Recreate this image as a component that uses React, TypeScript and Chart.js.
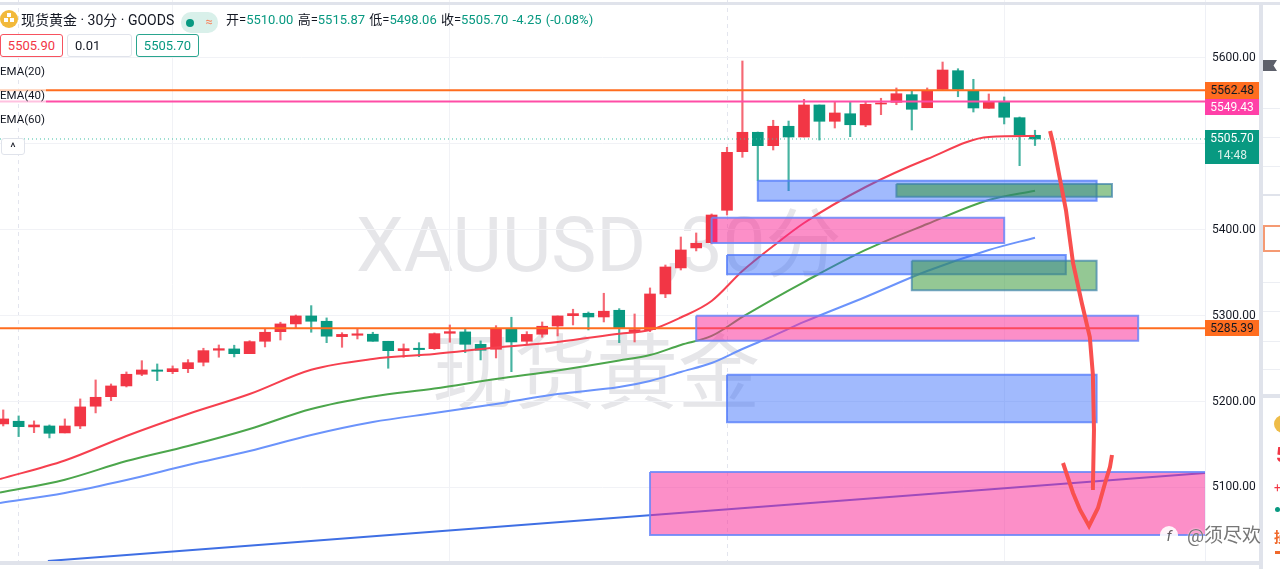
import React, { useEffect, useRef } from "react";
import { Chart, registerables } from "chart.js";

Chart.register(...registerables);

const FONT = "Roboto, 'Noto Sans CJK SC', sans-serif";

// candle values, oldest first (index 0..67)
const opens = [
  5174.0, 5177.1, 5170.5, 5171.6, 5163.5, 5171.6, 5194.6, 5205.7, 5218.2, 5231.8, 5236.8, 5234.8, 5238.3, 5245.8, 5259.8, 5261.3, 5255.8,
  5270.2, 5281.4, 5290.4, 5299.7, 5293.5, 5275.6, 5277.2, 5278.4, 5270.2, 5259.3, 5262.1, 5261.6, 5279.5, 5281.1, 5266.7, 5260.9, 5284.6,
  5270.2, 5278.4, 5288.0, 5300.0, 5302.8, 5298.5, 5306.3, 5281.4, 5283.7, 5325.3, 5355.6, 5378.9, 5385.0, 5422.7, 5490.9, 5513.5, 5497.9,
  5520.5, 5508.0, 5545.3, 5526.3, 5535.1, 5522.0, 5546.4, 5548.4, 5557.3, 5542.1, 5563.5, 5585.2, 5561.9, 5541.4, 5549.1, 5530.5, 5510.0,
];
const highs = [
  5190.3, 5183.3, 5177.5, 5172.8, 5179.8, 5203.1, 5225.2, 5220.5, 5234.5, 5247.6, 5243.8, 5241.5, 5248.8, 5262.1, 5265.9, 5265.6, 5270.9,
  5284.5, 5292.4, 5300.8, 5311.7, 5297.4, 5280.2, 5284.9, 5280.7, 5270.2, 5267.1, 5268.6, 5279.9, 5289.2, 5284.2, 5270.6, 5288.4, 5298.2,
  5281.4, 5292.7, 5299.7, 5307.5, 5304.3, 5326.1, 5308.2, 5302.0, 5332.3, 5359.0, 5391.6, 5396.3, 5418.4, 5496.0, 5596.5, 5513.8, 5527.5,
  5526.6, 5551.9, 5545.3, 5549.1, 5549.1, 5549.1, 5553.1, 5565.1, 5561.2, 5565.1, 5595.3, 5587.5, 5575.2, 5558.1, 5554.6, 5531.3, 5515.87,
];
const lows = [
  5171.6, 5159.2, 5163.8, 5157.7, 5163.5, 5168.5, 5186.8, 5201.1, 5217.0, 5230.2, 5224.4, 5232.5, 5233.7, 5241.5, 5251.6, 5252.0, 5255.8,
  5263.6, 5271.7, 5285.7, 5280.7, 5268.6, 5263.2, 5272.9, 5270.2, 5238.8, 5251.6, 5252.3, 5260.7, 5269.1, 5257.0, 5248.5, 5250.8, 5234.8,
  5266.7, 5274.9, 5276.4, 5289.2, 5283.4, 5292.7, 5268.6, 5269.4, 5281.4, 5321.0, 5353.2, 5375.4, 5383.5, 5417.2, 5484.4, 5457.1, 5492.9,
  5445.5, 5508.0, 5504.5, 5518.5, 5508.4, 5520.0, 5534.0, 5545.6, 5516.2, 5542.1, 5563.5, 5554.9, 5537.1, 5541.4, 5523.2, 5474.6, 5498.06,
];
const closes = [
  5179.8, 5170.8, 5172.8, 5163.1, 5171.6, 5193.8, 5205.0, 5218.2, 5231.8, 5236.8, 5235.3, 5238.3, 5245.3, 5259.3, 5261.6, 5255.8, 5269.8,
  5280.7, 5290.4, 5299.7, 5293.5, 5276.1, 5278.2, 5278.9, 5270.2, 5259.3, 5261.6, 5260.5, 5279.1, 5281.4, 5266.7, 5259.8, 5284.9, 5269.4,
  5278.2, 5287.7, 5299.7, 5302.4, 5298.5, 5305.2, 5286.1, 5283.7, 5325.3, 5356.7, 5376.5, 5384.3, 5417.2, 5490.2, 5513.5, 5497.9, 5520.5,
  5508.0, 5545.3, 5526.3, 5536.0, 5522.3, 5546.1, 5547.6, 5558.4, 5540.3, 5561.9, 5586.0, 5563.5, 5541.8, 5549.1, 5531.0, 5510.3, 5505.7,
];

// moving averages, read at these candle indexes
const emaIndex = [-0.21, 4, 8, 12, 16, 20, 24, 28, 32, 36, 40, 42, 44, 46, 48, 50, 52, 56, 60, 64, 67];
const ema20 = [5109.9, 5131.4, 5160.0, 5185.6, 5208.8, 5237.1, 5249.6, 5255.4, 5263.0, 5269.4, 5278.9, 5283.3, 5297.9, 5317.1, 5352.0, 5381.1, 5407.9, 5449.8, 5482.4, 5508.0, 5509.2];
const ema40 = [5094.0, 5109.1, 5130.8, 5148.3, 5168.1, 5191.4, 5205.9, 5215.2, 5226.3, 5236.2, 5247.8, 5254.2, 5265.9, 5276.4, 5298.5, 5319.4, 5339.2, 5376.5, 5406.7, 5434.7, 5445.5];
const ema60 = [5082.0, 5093.6, 5108.7, 5126.2, 5142.5, 5161.1, 5176.2, 5186.7, 5197.2, 5208.8, 5217.0, 5224.0, 5234.5, 5244.9, 5261.2, 5276.4, 5292.7, 5321.8, 5352.0, 5376.5, 5390.8];

// trend line
const trendX = [2.9, 78.1];
const trendY = [5014.5, 5117.0];

// horizontal levels
const levelOrange1 = 5562.48;
const levelPink = 5549.43;
const levelOrange2 = 5285.39;
const lastPrice = 5505.7;

// zones: first candle, last candle, top price, bottom price
const zoneBlueA = [49, 71, 5457.1, 5433.9];
const zoneGreenA = [58, 72, 5453.3, 5438.5];
const zonePinkA = [46, 65, 5414.1, 5384.6];
const zoneBlueB = [47, 69, 5370.7, 5348.2];
const zoneGreenB = [59, 71, 5364.0, 5329.6];
const zonePinkB = [45, 73.7, 5300.0, 5270.9];
const zoneBlueC = [47, 71, 5231.3, 5175.9];
const zonePinkC = [42, 78.1, 5118.0, 5044.7];

// hand-drawn strokes
const shaftX = [67.98, 68.17, 68.63, 69.01, 69.47, 70.04, 70.56, 70.76, 70.83, 70.76, 70.64];
const shaftY = [5515.0, 5501.0, 5458.0, 5423.0, 5361.3, 5314.8, 5275.2, 5231.0, 5167.0, 5099.4, 5099.4];
const vMarkX = [68.82, 69.47, 69.93, 70.51, 71.09, 71.55, 71.87, 72.0];
const vMarkY = [5128.5, 5093.6, 5073.8, 5055.2, 5076.1, 5105.2, 5123.9, 5137.8];

// axes
const priceTicks = [5100, 5200, 5300, 5400, 5500, 5600];
const timeTicks = [1, 11, 29, 47, 65];
const dayBreaks = [1, 47];
const xRange = [-0.21, 78.04];
const yRange = [5005.1, 5667.5];

const UP = "#f23645";
const DOWN = "#089981";

const zip = (xs: number[], ys: number[]) => xs.map((x, i) => ({ x, y: ys[i] }));

const zoneSet = (z: number[], fill: string, border: string, order: number) => ({
  type: "line" as const,
  data: zip([z[0], z[1], z[1], z[0], z[0]], [z[2], z[2], z[3], z[3], z[2]]),
  backgroundColor: fill,
  borderColor: border,
  borderWidth: 2,
  pointRadius: 0,
  tension: 0,
  fill: "shape",
  order,
});

const lineSet = (data: { x: number; y: number }[], color: string, width: number, order: number, extra: object = {}) => ({
  type: "line" as const,
  data,
  borderColor: color,
  backgroundColor: color,
  borderWidth: width,
  pointRadius: 0,
  tension: 0,
  fill: false,
  order,
  ...extra,
});

const smooth = { cubicInterpolationMode: "monotone" };

const level = (y: number) => zip([xRange[0], xRange[1]], [y, y]);

const candleColors = opens.map((o, i) => (closes[i] >= o ? UP : DOWN));
const wickColors = opens.map((o, i) => (closes[i] >= o ? "rgba(242,54,69,0.75)" : "rgba(8,153,129,0.75)"));

const PINK_FILL = "rgba(250,40,150,0.52)";
const PINK_EDGE = "rgba(105,135,250,0.85)";
const BLUE_FILL = "rgba(50,105,250,0.46)";
const BLUE_EDGE = "rgba(85,125,250,0.8)";
const GREEN_FILL = "rgba(50,150,50,0.52)";
const GREEN_EDGE = "rgba(60,130,170,0.7)";

const abs = (left: number, top: number, width: number, height: number, extra: React.CSSProperties = {}): React.CSSProperties => ({
  position: "absolute",
  left,
  top,
  width,
  height,
  ...extra,
});

const Tag = ({ top, height, bg, color, text }: { top: number; height: number; bg: string; color: string; text: string }) => (
  <div style={abs(1205, top, 54, height, { background: bg, color, fontSize: 12, lineHeight: `${height}px`, textAlign: "center" })}>{text}</div>
);

const Box = ({ left, width, border, color, text, align = "center" }: { left: number; width: number; border: string; color: string; text: string; align?: "center" | "left" }) => (
  <div style={abs(left, 34, width, 23, { boxSizing: "border-box", background: "#fff", border: `1px solid ${border}`, borderRadius: 3, color, fontSize: 13, lineHeight: "21px", textAlign: align, paddingLeft: align === "left" ? 7 : 0 })}>{text}</div>
);

const Legend = ({ top, text, veil = false }: { top: number; text: string; veil?: boolean }) => (
  <div style={abs(0, top, 46, 16, { fontSize: 11.5, lineHeight: "16px", color: "#131722", whiteSpace: "nowrap", background: veil ? "rgba(255,255,255,0.65)" : "transparent" })}>{text}</div>
);

const noPadding = (s: any) => {
  s.paddingTop = 0;
  s.paddingBottom = 0;
  s.paddingLeft = 0;
  s.paddingRight = 0;
};

export default function App() {
  const ref = useRef<HTMLCanvasElement>(null);
  useEffect(() => {
    document.body.style.margin = "0";
    if (!ref.current) return;
    const chart = new Chart(ref.current, {
      type: "line",
      data: {
        datasets: [
          lineSet(zip(shaftX, shaftY), "#f9504f", 4, 0),
          lineSet(zip(vMarkX, vMarkY), "#f9504f", 4, 0),
          zoneSet(zoneGreenA, GREEN_FILL, GREEN_EDGE, 1),
          zoneSet(zoneGreenB, GREEN_FILL, GREEN_EDGE, 1),
          zoneSet(zoneBlueA, BLUE_FILL, BLUE_EDGE, 2),
          zoneSet(zoneBlueB, BLUE_FILL, BLUE_EDGE, 2),
          zoneSet(zoneBlueC, BLUE_FILL, BLUE_EDGE, 2),
          zoneSet(zonePinkA, PINK_FILL, PINK_EDGE, 2),
          zoneSet(zonePinkB, PINK_FILL, PINK_EDGE, 2),
          zoneSet(zonePinkC, PINK_FILL, PINK_EDGE, 2),
          lineSet(zip(trendX, trendY), "#3f6fe4", 2, 3),
          lineSet(level(levelOrange1), "#ff6d1f", 2, 4),
          lineSet(level(levelPink), "#ff4da6", 2, 4),
          lineSet(level(levelOrange2), "#ff6d1f", 2, 4),
          lineSet(zip(emaIndex, ema20), "#f6404f", 2, 5, smooth),
          lineSet(zip(emaIndex, ema40), "#4ca64c", 2, 5, smooth),
          lineSet(zip(emaIndex, ema60), "#6b93fb", 2, 5, smooth),
          lineSet(level(lastPrice), "#3fbfa5", 1, 6, { borderDash: [1, 3] }),
          {
            type: "bar" as const,
            data: opens.map((o, i) => ({ x: i, y: [o, closes[i]] })),
            backgroundColor: candleColors,
            borderWidth: 0,
            barThickness: 11,
            grouped: false,
            order: 7,
          },
          {
            type: "bar" as const,
            data: lows.map((l, i) => ({ x: i, y: [l, highs[i]] })),
            backgroundColor: wickColors,
            borderWidth: 0,
            barThickness: 1.5,
            grouped: false,
            order: 8,
          },
        ] as any,
      },
      options: {
        responsive: false,
        animation: false,
        layout: { padding: 0 },
        events: [],
        plugins: { legend: { display: false }, tooltip: { enabled: false } },
        scales: {
          x: {
            type: "linear",
            min: xRange[0],
            max: xRange[1],
            offset: false,
            afterBuildTicks: (s: any) => {
              s.ticks = timeTicks.map((value) => ({ value }));
            },
            afterFit: (s: any) => {
              s.height = 0;
              noPadding(s);
            },
            ticks: { display: false },
            border: {
              display: false,
              dash: (ctx: any) => (ctx.tick && dayBreaks.includes(ctx.tick.value) ? [4, 4] : []),
            },
            grid: {
              drawTicks: false,
              offset: false,
              color: (ctx: any) => (ctx.tick && dayBreaks.includes(ctx.tick.value) ? "#e3e5ee" : "#f1f2f6"),
            },
          },
          y: {
            type: "linear",
            position: "right",
            min: yRange[0],
            max: yRange[1],
            afterBuildTicks: (s: any) => {
              s.ticks = priceTicks.map((value) => ({ value }));
            },
            afterFit: (s: any) => {
              s.width = 75;
              noPadding(s);
            },
            ticks: {
              color: "#131722",
              font: { family: FONT, size: 12 },
              padding: 7,
              callback: (v: any) => Number(v).toFixed(2),
            },
            border: { color: "#eef0f6" },
            grid: { drawTicks: false, color: "#f1f2f6" },
          },
        },
      } as any,
    });
    return () => chart.destroy();
  }, []);

  return (
    <div style={abs(0, 0, 1280, 569, { background: "#fff", overflow: "hidden", fontFamily: FONT })}>
      {/* watermark under the chart */}
      <div style={abs(356, 200, 490, 90, { fontSize: 76, lineHeight: "90px", color: "#e6e6e9", whiteSpace: "nowrap" })}>XAUUSD ,30分</div>
      <div style={abs(432, 329, 340, 90, { fontSize: 82, lineHeight: "90px", color: "#e6e6e9", whiteSpace: "nowrap" })}>现货黄金</div>

      <canvas ref={ref} width={1280} height={569} style={abs(0, 0, 1280, 569, { display: "block" })} />

      {/* frame */}
      <div style={abs(0, 2, 1280, 3, { background: "#e0e3eb" })} />
      <div style={abs(0, 561, 1259, 4, { background: "#e0e3eb" })} />
      <div style={abs(0, 565, 1263, 4, { background: "#fff" })} />
      <div style={abs(1259, 5, 4, 564, { background: "#e0e3eb" })} />

      {/* header */}
      <div style={abs(0, 10, 18, 18, { background: "#f2b93b", borderRadius: "50%" })} />
      <div style={abs(7, 13, 4, 4, { background: "#fff" })} />
      <div style={abs(4, 18, 4, 4, { background: "#fff" })} />
      <div style={abs(10, 18, 4, 4, { background: "#fff" })} />
      <div style={abs(21, 10, 160, 20, { fontSize: 14, lineHeight: "20px", color: "#131722", whiteSpace: "nowrap" })}>现货黄金 · 30分 · GOODS</div>
      <div style={abs(181, 12, 37, 21, { background: "#d9f0ea", borderRadius: 10 })} />
      <div style={abs(186, 19, 8, 8, { background: DOWN, borderRadius: "50%" })} />
      <div style={abs(203, 13, 12, 18, { color: "#f7845d", fontSize: 13, lineHeight: "18px", textAlign: "center" })}>≈</div>
      <div style={abs(226, 10, 380, 20, { fontSize: 13, lineHeight: "20px", color: "#131722", whiteSpace: "nowrap", wordSpacing: 1 })}>
        开=<span style={{ color: DOWN }}>5510.00</span> 高=<span style={{ color: DOWN }}>5515.87</span> 低=<span style={{ color: DOWN }}>5498.06</span> 收=<span style={{ color: DOWN }}>5505.70</span> <span style={{ color: DOWN }}>-4.25 (-0.08%)</span>
      </div>
      <Box left={0} width={63} border="#f7525f" color="#f23645" text="5505.90" />
      <Box left={67} width={65} border="#e0e3eb" color="#131722" text="0.01" align="left" />
      <Box left={136} width={63} border="#2aa58f" color={DOWN} text="5505.70" />
      <Legend top={63} text="EMA(20)" />
      <Legend top={87} text="EMA(40)" veil />
      <Legend top={111} text="EMA(60)" />
      <div style={abs(1, 138, 24, 17, { boxSizing: "border-box", border: "1px solid #e0e3eb", borderRadius: 3, background: "#fff", color: "#131722", fontSize: 13, lineHeight: "18px", textAlign: "center" })}>^</div>

      {/* price tags */}
      <Tag top={82} height={17} bg="#ff6d1f" color="#131722" text="5562.48" />
      <Tag top={99} height={16} bg="#ff40a8" color="#fff" text="5549.43" />
      <Tag top={130} height={17} bg={DOWN} color="#fff" text="5505.70" />
      <Tag top={147} height={17} bg={DOWN} color="#d9f0ea" text="14:48" />
      <Tag top={320} height={16} bg="#ff6d1f" color="#131722" text="5285.39" />

      {/* side panel */}
      <div style={abs(1263, 60, 14, 11, { background: "#5d606b", clipPath: "polygon(0 0,100% 0,75% 50%,100% 100%,0 100%)" })} />
      {[108, 137, 166, 282, 311, 341, 369].map((y) => (
        <div key={y} style={abs(1263, y, 17, 1, { background: "#eceef3" })} />
      ))}
      <div style={abs(1263, 194, 17, 2, { background: "#e0e3eb" })} />
      <div style={abs(1263, 225, 17, 27, { boxSizing: "border-box", border: "2px solid #f59a73", borderRight: 0 })} />
      <div style={abs(1263, 394, 17, 4, { background: "#e0e3eb" })} />
      <div style={abs(1274, 415, 18, 18, { background: "#eebc48", borderRadius: "50%" })} />
      <div style={abs(1276, 443, 10, 24, { color: "#f23645", fontSize: 20, fontWeight: 700, lineHeight: "24px" })}>5</div>
      <div style={abs(1274, 480, 8, 16, { color: "#f23645", fontSize: 12, lineHeight: "16px" })}>+</div>
      <div style={abs(1275, 507, 5, 5, { background: DOWN, borderRadius: "50%" })} />
      <div style={abs(1274, 528, 14, 18, { color: "#f0692b", fontSize: 14, fontWeight: 700, lineHeight: "18px" })}>损</div>
      <div style={abs(1275, 551, 6, 3, { background: "#f0692b" })} />

      {/* credit */}
      <div style={abs(1160, 526, 18, 20, { background: "#fff", borderRadius: 9, color: "#555", fontSize: 15, fontStyle: "italic", lineHeight: "20px", textAlign: "center", opacity: 0.9 })}>f</div>
      <div style={abs(1187, 524, 90, 24, { fontSize: 19, lineHeight: "24px", color: "#777", whiteSpace: "nowrap", textShadow: "0 0 2px #fff" })}>@须尽欢</div>
    </div>
  );
}
